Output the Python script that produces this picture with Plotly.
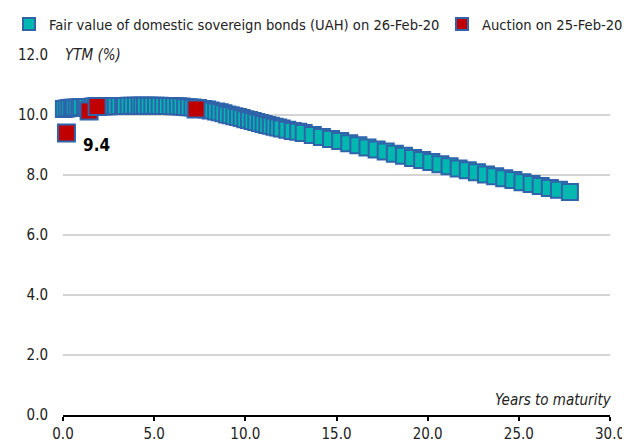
import plotly.graph_objects as go

# Fair value curve (years to maturity, YTM %)
fv_x = [0.05, 0.2, 0.35, 0.5, 0.6, 0.75, 0.9, 1.0, 1.2, 1.3, 1.5, 1.65, 1.8, 2.0, 2.2, 2.3, 2.5,
        2.7, 2.9, 3.1, 3.3, 3.4, 3.6, 3.8, 4.0, 4.2, 4.35, 4.5, 4.7, 4.9, 5.1, 5.3, 5.5, 5.7,
        5.9, 6.1, 6.3, 6.5, 6.7, 6.9, 7.1, 7.4, 7.7, 7.9, 8.1, 8.4, 8.6, 8.8, 9.0, 9.2, 9.4,
        9.6, 9.8, 10.0, 10.2, 10.4, 10.6, 10.8, 11.0, 11.2, 11.4, 11.6, 11.8, 12.0, 12.3,
        12.6, 12.9, 13.2, 13.7, 14.2, 14.7, 15.2, 15.7, 16.2, 16.7, 17.2, 17.7, 18.2, 18.7,
        19.2, 19.7, 20.2, 20.7, 21.2, 21.7, 22.2, 22.7, 23.2, 23.7, 24.2, 24.7, 25.2, 25.7,
        26.2, 26.7, 27.2, 27.8]
fv_y = [10.20, 10.22, 10.23, 10.24, 10.24, 10.25, 10.25, 10.26, 10.26, 10.27, 10.27, 10.28,
        10.28, 10.28, 10.29, 10.29, 10.29, 10.30, 10.30, 10.30, 10.30, 10.30, 10.31, 10.31,
        10.31, 10.31, 10.31, 10.31, 10.31, 10.31, 10.31, 10.31, 10.30, 10.30, 10.30, 10.29,
        10.29, 10.28, 10.27, 10.26, 10.25, 10.23, 10.20, 10.18, 10.15, 10.12, 10.09, 10.06,
        10.02, 9.99, 9.96, 9.93, 9.90, 9.86, 9.83, 9.80, 9.77, 9.73, 9.70, 9.67, 9.64, 9.61,
        9.58, 9.55, 9.51, 9.47, 9.44, 9.40, 9.33, 9.27, 9.20, 9.13, 9.06, 8.99, 8.92, 8.85,
        8.78, 8.71, 8.64, 8.57, 8.50, 8.43, 8.36, 8.29, 8.22, 8.16, 8.09, 8.02, 7.96, 7.89,
        7.83, 7.76, 7.70, 7.63, 7.57, 7.51, 7.43]

# Auction results
auc_x = [0.19, 1.43, 1.87, 7.3]
auc_y = [9.4, 10.13, 10.28, 10.2]

x_ticks = [0, 5, 10, 15, 20, 25, 30]
y_ticks = [0, 2, 4, 6, 8, 10, 12]

FONT = "DejaVu Sans Condensed, Liberation Sans Narrow, Arial Narrow, sans-serif"
TEAL = "#00B8B0"
BLUE = "#2F63AA"
RED = "#C00000"

# the page body adds an 8px margin; the figure is sized to fill the rest of the window
W, H = 622, 435
ML, MR, MT, MB = 55, 20, 47, 28
PW = W - ML - MR

fig = go.Figure()
fig.add_trace(go.Scatter(
    x=fv_x, y=fv_y, mode="markers", cliponaxis=False, legend="legend",
    name="Fair value of domestic sovereign bonds (UAH) on 26-Feb-20",
    marker=dict(symbol="square", size=16, color=TEAL, line=dict(color=BLUE, width=2)),
))
fig.add_trace(go.Scatter(
    x=auc_x, y=auc_y, mode="markers", cliponaxis=False, legend="legend2",
    name="Auction on 25-Feb-20",
    marker=dict(symbol="square", size=17, color=RED, line=dict(color=BLUE, width=2)),
))

fig.add_annotation(x=auc_x[0], y=auc_y[0], text="<b>9.4</b>", showarrow=False,
                   xanchor="left", yanchor="top", xshift=15, yshift=0,
                   font=dict(family=FONT, size=17, color="black"))
fig.add_annotation(x=0, y=12, xref="x", yref="y", text="<i>YTM (%)</i>", showarrow=False,
                   xanchor="left", yanchor="middle", bgcolor="white",
                   font=dict(family=FONT, size=15, color="#222"))
fig.add_annotation(x=30, y=0, xref="x", yref="y", text="<i>Years to maturity</i>", showarrow=False,
                   xanchor="right", yanchor="bottom", yshift=4, xshift=4,
                   font=dict(family=FONT, size=15, color="#222"))

leg_common = dict(orientation="h", xref="paper", yref="container", xanchor="left",
                  yanchor="middle", y=1 - 16 / H, itemwidth=30, bgcolor="rgba(0,0,0,0)",
                  itemsizing="constant")

fig.update_layout(
    width=W, height=H,
    margin=dict(l=ML, r=MR, t=MT, b=MB, autoexpand=False),
    paper_bgcolor="white", plot_bgcolor="white",
    font=dict(family=FONT, size=15, color="#222"),
    showlegend=True,
    legend=dict(x=(1 - ML) / PW, font=dict(family=FONT, size=14.6, color="#222"), **leg_common),
    legend2=dict(x=(434 - ML) / PW, font=dict(family=FONT, size=14.6, color="#222"), **leg_common),
    xaxis=dict(range=[0, 30], tickvals=x_ticks, ticktext=[f"{v:.1f}" for v in x_ticks],
               showgrid=False, zeroline=False, showline=True, linecolor="black", linewidth=2,
               ticks="outside", ticklen=4, tickcolor="black", tickwidth=2, automargin=False),
    yaxis=dict(range=[0, 12], tickvals=y_ticks, ticktext=[f"{v:.1f}" for v in y_ticks],
               showgrid=True, gridcolor="#D4D4D4", gridwidth=2, zeroline=False,
               showline=False, ticks="", ticklabelstandoff=14, automargin=False),
)

fig.write_html("out.html")
